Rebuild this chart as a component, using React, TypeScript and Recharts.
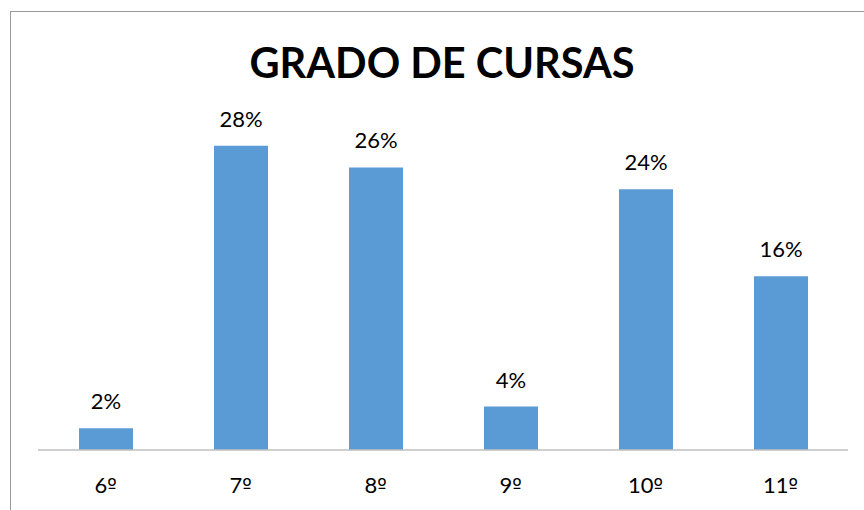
import React from "react";
import { BarChart, Bar, XAxis, YAxis, LabelList } from "recharts";

const categories = ["6º", "7º", "8º", "9º", "10º", "11º"];
const values = [2, 28, 26, 4, 24, 16];
const valueLabels = ["2%", "28%", "26%", "4%", "24%", "16%"];
const title = "GRADO DE CURSAS";

const data = categories.map((c, i) => ({ name: c, value: values[i], label: valueLabels[i] }));

const FONT = "Lato, 'Open Sans', sans-serif";
const ORD_FONT = "'DejaVu Sans', sans-serif";

const Tick = (props: any) => {
  const { x, y, payload } = props;
  const s: string = String(payload.value);
  const num = s.replace("º", "");
  const hasOrd = s.includes("º");
  return (
    <text x={x} y={y + 29} textAnchor="middle" dominantBaseline="middle" fontFamily={FONT} fontSize={22} fill="#000">
      <tspan>{num}</tspan>
      {hasOrd && <tspan fontFamily={ORD_FONT} fontSize={20}>º</tspan>}
    </text>
  );
};

export default function App() {
  return (
    <div style={{ position: "absolute", left: 0, top: 0, width: 864, height: 510, overflow: "hidden", background: "#fff" }}>
      <div
        style={{
          position: "absolute",
          left: 10,
          top: 11,
          width: 900,
          height: 600,
          border: "1px solid #9a9a9a",
          boxSizing: "border-box",
        }}
      />
      <div
        style={{
          position: "absolute",
          left: 0,
          width: 884,
          top: 35,
          textAlign: "center",
          fontFamily: FONT,
          fontWeight: 700,
          fontSize: 41.5,
          lineHeight: "54px",
          color: "#000",
        }}
      >
        {title}
      </div>
      <div style={{ position: "absolute", left: 0, top: 0 }}>
        <BarChart width={864} height={510} data={data} margin={{ top: 124, right: 16, left: 38, bottom: 20 }} barSize={54}>
          <YAxis hide domain={[0, 30]} />
          <XAxis
            dataKey="name"
            height={40}
            tickLine={false}
            axisLine={{ stroke: "#bfbfbf", strokeWidth: 1.5 }}
            tick={<Tick />}
            interval={0}
          />
          <Bar dataKey="value" fill="#5b9bd5" isAnimationActive={false}>
            <LabelList dataKey="label" position="top" offset={19} fontFamily={FONT} fontSize={22} fill="#000" />
          </Bar>
        </BarChart>
      </div>
    </div>
  );
}
